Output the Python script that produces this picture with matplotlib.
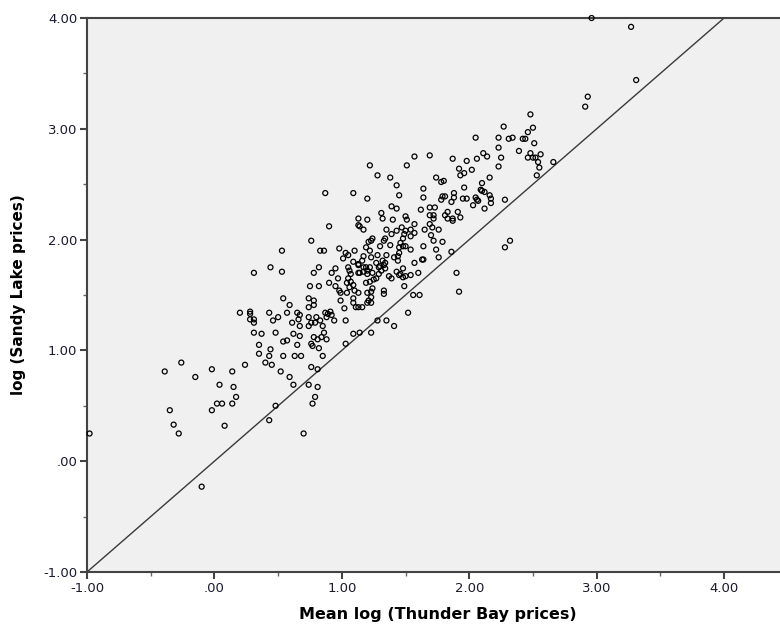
import numpy as np
import matplotlib.pyplot as plt

# Mean log (Thunder Bay prices) vs log (Sandy Lake prices)
thunderBay = [
    -0.98, -0.39, -0.35, -0.32, -0.28, -0.26, -0.15, -0.10, -0.02, -0.02,
    0.02, 0.06, 0.04, 0.08, 0.14, 0.14, 0.15, 0.17, 0.20, 0.24,
    0.28, 0.28, 0.28, 0.31, 0.31, 0.31, 0.31, 0.35, 0.35, 0.37,
    0.40, 0.43, 0.44, 0.44, 0.43, 0.45, 0.46, 0.48, 0.48, 0.43,
    0.50, 0.52, 0.53, 0.53, 0.54, 0.54, 0.57, 0.54, 0.57, 0.59,
    0.59, 0.61, 0.62, 0.63, 0.62, 0.65, 0.67, 0.66, 0.65, 0.67,
    0.68, 0.70, 0.67,
    # 0.74 - 1.17
    0.74, 0.78, 0.78, 0.74, 0.75, 0.82, 0.78, 0.82, 0.76, 0.83,
    0.86, 0.87, 0.90, 0.90, 0.95, 0.97, 0.98, 0.99, 1.04, 1.05,
    1.07, 1.09, 1.06, 1.10, 1.04, 0.95, 0.92, 1.05, 1.06, 1.07,
    1.13, 1.13, 1.09, 0.98, 1.03, 1.05, 1.01, 1.09, 1.10, 1.13,
    1.13, 1.14, 1.17, 0.74, 0.80, 0.76, 0.79, 0.74, 0.83, 0.87,
    0.91, 0.92, 0.88, 0.89, 0.94, 1.03, 0.85, 0.86, 0.88, 0.84,
    0.78, 0.81, 0.76, 0.77, 0.82, 0.85, 0.76, 0.81, 0.74, 0.81,
    0.79, 0.77, 1.03, 1.09, 1.14, 1.09, 1.09, 1.11, 1.13, 1.16,
    1.02, 0.99, 1.13,
    # 1.15 - 1.63
    1.22, 1.28, 1.38, 1.43, 1.45, 1.20, 1.39, 1.43, 1.31, 1.32,
    1.20, 1.40, 1.50, 1.51, 1.57, 1.62, 1.57, 1.51, 1.35, 1.39,
    1.43, 1.47, 1.50, 1.54, 1.57, 1.54, 1.49, 1.48, 1.46, 1.48,
    1.50, 1.54, 1.45, 1.38, 1.34, 1.33, 1.24, 1.23, 1.21, 1.30,
    1.19, 1.22, 1.16, 1.13, 1.17, 1.23, 1.28, 1.35, 1.41, 1.44,
    1.44, 1.45, 1.32, 1.34, 1.30, 1.57, 1.63, 1.17, 1.19, 1.22,
    1.27, 1.29, 1.33, 1.34, 1.20, 1.24, 1.29, 1.27, 1.31, 1.17,
    1.14, 1.20, 1.37, 1.39, 1.43, 1.46, 1.48, 1.45, 1.48, 1.50,
    1.54, 1.60, 1.19, 1.22, 1.25, 1.24, 1.23, 1.20, 1.33, 1.33,
    1.49, 1.56, 1.61, 1.20, 1.21, 1.23, 1.23, 1.52, 1.28, 1.35,
    1.41, 1.23,
    # 1.64 - 2.66
    1.69, 1.64, 1.64, 1.69, 1.73, 1.74, 1.78, 1.80, 1.69, 1.72,
    1.72, 1.81, 1.83, 1.87, 1.87, 1.83, 1.91, 1.93, 1.69, 1.71,
    1.65, 1.76, 1.70, 1.72, 1.79, 1.64, 1.74, 1.76, 1.64, 1.79,
    1.81, 1.78, 1.88, 1.88, 1.86, 1.95, 1.98, 2.05, 2.06, 2.03,
    2.07, 2.16, 2.17, 2.17, 2.12, 2.28, 1.87, 1.92, 1.96, 1.93,
    2.02, 1.98, 2.06, 2.11, 2.14, 2.05, 2.23, 2.25, 2.23, 2.23,
    2.31, 2.34, 2.42, 2.44, 2.27, 2.48, 2.50, 2.46, 2.51, 2.39,
    2.56, 2.48, 2.46, 2.50, 2.52, 2.54, 2.55, 2.66, 2.53, 2.16,
    2.10, 1.96, 2.09, 2.12, 2.10, 1.90, 1.92, 1.86, 2.28, 2.32,
    # far right
    2.91, 2.93, 3.27, 3.31, 2.96,
]

sandyLake = [
    0.25, 0.81, 0.46, 0.33, 0.25, 0.89, 0.76, -0.23, 0.83, 0.46,
    0.52, 0.52, 0.69, 0.32, 0.81, 0.52, 0.67, 0.58, 1.34, 0.87,
    1.35, 1.33, 1.28, 1.28, 1.25, 1.16, 1.70, 1.05, 0.97, 1.15,
    0.89, 1.34, 1.75, 1.01, 0.95, 0.87, 1.27, 1.16, 0.50, 0.37,
    1.30, 0.81, 1.90, 1.71, 1.47, 1.08, 1.09, 0.95, 1.34, 1.41,
    0.76, 1.25, 1.15, 0.95, 0.69, 1.34, 1.32, 1.28, 1.05, 1.13,
    0.95, 0.25, 1.22,
    # 0.74 - 1.17
    1.47, 1.45, 1.41, 1.39, 1.58, 1.58, 1.70, 1.75, 1.99, 1.90,
    1.90, 2.42, 2.12, 1.61, 1.58, 1.65, 1.54, 1.52, 1.52, 1.65,
    1.62, 1.59, 1.57, 1.54, 1.61, 1.74, 1.70, 1.75, 1.72, 1.69,
    1.77, 1.70, 1.80, 1.92, 1.88, 1.86, 1.83, 2.42, 1.90, 2.19,
    2.13, 2.12, 2.09, 1.30, 1.30, 1.25, 1.25, 1.22, 1.27, 1.34,
    1.35, 1.32, 1.30, 1.33, 1.27, 1.27, 1.22, 1.16, 1.10, 1.12,
    1.12, 1.10, 1.06, 1.04, 1.02, 0.95, 0.85, 0.83, 0.69, 0.67,
    0.58, 0.52, 1.06, 1.15, 1.16, 1.47, 1.43, 1.39, 1.39, 1.39,
    1.38, 1.45, 1.52,
    # 1.15 - 1.63
    2.67, 2.58, 2.56, 2.49, 2.40, 2.37, 2.30, 2.28, 2.24, 2.19,
    2.18, 2.18, 2.21, 2.18, 2.14, 2.27, 2.75, 2.67, 2.09, 2.05,
    2.08, 2.11, 2.08, 2.09, 2.06, 2.03, 2.05, 2.01, 1.97, 1.94,
    1.94, 1.91, 1.93, 1.95, 2.01, 1.99, 2.01, 1.99, 1.98, 1.94,
    1.93, 1.90, 1.81, 1.78, 1.85, 1.84, 1.86, 1.86, 1.84, 1.85,
    1.81, 1.88, 1.81, 1.79, 1.76, 1.79, 1.82, 1.75, 1.75, 1.75,
    1.79, 1.75, 1.77, 1.74, 1.72, 1.70, 1.69, 1.65, 1.72, 1.71,
    1.70, 1.69, 1.67, 1.65, 1.71, 1.69, 1.74, 1.68, 1.66, 1.67,
    1.68, 1.70, 1.61, 1.62, 1.64, 1.56, 1.53, 1.52, 1.54, 1.51,
    1.58, 1.50, 1.50, 1.43, 1.45, 1.48, 1.43, 1.34, 1.27, 1.27,
    1.22, 1.16,
    # 1.64 - 2.66
    2.76, 2.46, 2.38, 2.29, 2.29, 2.56, 2.52, 2.53, 2.22, 2.22,
    2.19, 2.22, 2.19, 2.19, 2.17, 2.25, 2.25, 2.20, 2.14, 2.11,
    2.09, 2.09, 2.04, 1.99, 1.98, 1.94, 1.91, 1.84, 1.82, 2.39,
    2.39, 2.36, 2.42, 2.38, 2.34, 2.37, 2.37, 2.38, 2.36, 2.31,
    2.35, 2.40, 2.37, 2.33, 2.28, 2.36, 2.73, 2.64, 2.60, 2.58,
    2.63, 2.71, 2.73, 2.78, 2.75, 2.92, 2.92, 2.74, 2.83, 2.66,
    2.91, 2.92, 2.91, 2.91, 3.02, 3.13, 3.01, 2.97, 2.87, 2.80,
    2.77, 2.78, 2.74, 2.74, 2.74, 2.70, 2.65, 2.70, 2.58, 2.56,
    2.51, 2.47, 2.45, 2.43, 2.44, 1.70, 1.53, 1.89, 1.93, 1.99,
    # far right
    3.20, 3.29, 3.92, 3.44, 4.00,
]

xTicks = [-1, 0, 1, 2, 3, 4]
xTickLabels = ["-1.00", ".00", "1.00", "2.00", "3.00", "4.00"]
yTicks = [-1, 0, 1, 2, 3, 4]
yTickLabels = ["-1.00", ".00", "1.00", "2.00", "3.00", "4.00"]

fig = plt.figure(figsize=(7.8, 6.28), dpi=100)
ax = fig.add_axes([87 / 780, 1 - 572 / 628, 1 - 87 / 780 + 0.01, (572 - 18) / 628])
ax.set_facecolor("#f0f0f0")

# reference line y = x
ax.plot([-1, 4], [-1, 4], color="#3a3a3a", linewidth=1.0, zorder=2)

ax.scatter(thunderBay, sandyLake, s=13, facecolors="none", edgecolors="black",
           linewidths=0.9, zorder=3, clip_on=False)

ax.set_xlim(-1, 4.5)
ax.set_ylim(-1, 4)

ax.set_xticks(xTicks)
ax.set_xticklabels(xTickLabels)
ax.set_yticks(yTicks)
ax.set_yticklabels(yTickLabels)
ax.set_xticks(np.arange(-0.5, 4.5, 1.0), minor=True)
ax.set_yticks(np.arange(-0.5, 4.0, 1.0), minor=True)

ax.tick_params(axis="both", which="major", length=5, width=1.5, color="#444444",
               labelsize=9.5, labelcolor="#1a1a2e", pad=2)
ax.tick_params(axis="both", which="minor", length=3, width=1.0, color="#666666")

for side in ["left", "bottom", "top"]:
    ax.spines[side].set_color("#444444")
    ax.spines[side].set_linewidth(1.5)
ax.spines["right"].set_visible(False)

ax.set_xlabel("Mean log (Thunder Bay prices)", fontsize=11.5, fontweight="bold", labelpad=9)
ax.set_ylabel("log (Sandy Lake prices)", fontsize=11, fontweight="bold", labelpad=12)

fig.savefig("out.png", dpi=100)
